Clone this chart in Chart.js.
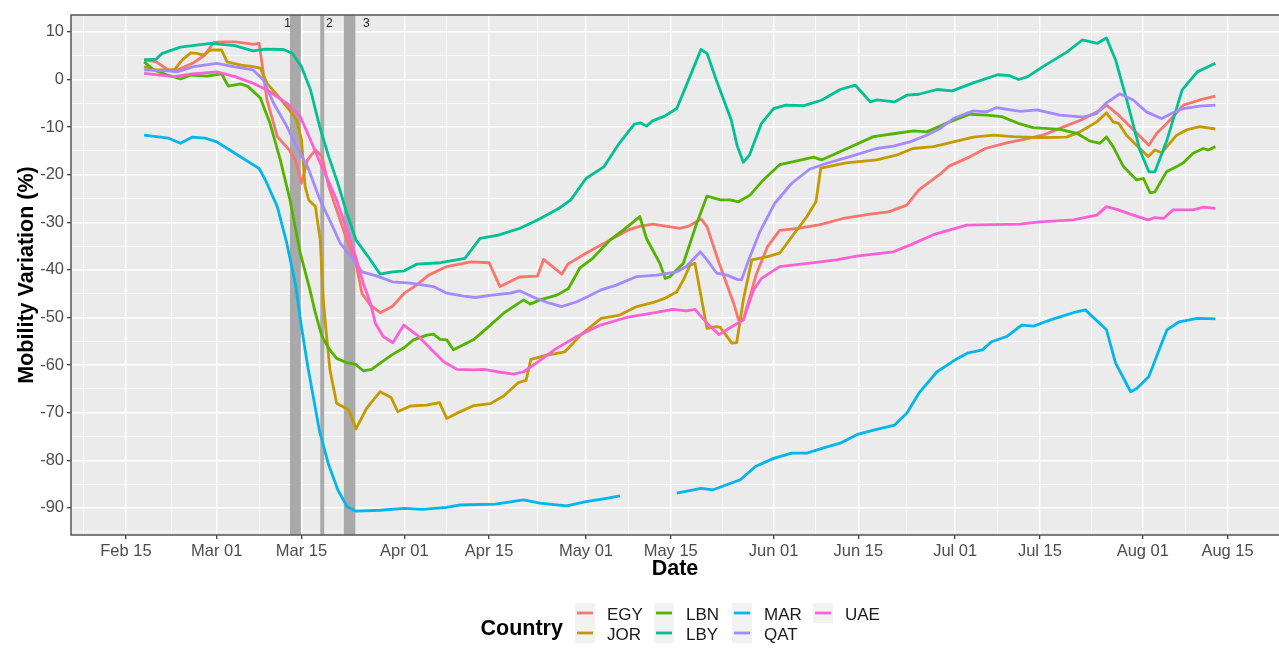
<!doctype html>
<html>
<head>
    <title>Mobility Variation</title>
    <script src="https://cdn.jsdelivr.net/npm/chart.js@4.4.1/dist/chart.umd.min.js"></script>
    <style>
    html, body { margin: 0; padding: 0; background: #fff; }
    #holder { width: 1279px; height: 648px; }
    </style>
</head>
<body>
<div id="holder"><canvas id="chart" width="1279" height="648"></canvas></div>
<script>
// x values are days counted from Feb 15 2020 (Feb 15 = 0)
var countries = ['EGY', 'JOR', 'LBN', 'LBY', 'MAR', 'QAT', 'UAE'];
var colors = ['#F8766D', '#C49A00', '#53B400', '#00C094', '#00B6EB', '#A58AFF', '#FB61D7'];

var egyDays = [3,5,7,8.5,11,13,14.5,16,18,20,21,22,22.7,23.3,25,27,28,29,30,31.3,32.4,33.5,35,36.5,38,39,40.4,42,44,46,48,50,53,57,60,61.8,65,68,69,72,73,76,80,83,85,87,91.5,93,95,96,98,100.4,101.2,102,104.2,106,108,111,114.7,118.5,123,126,129,131,134.5,136,139.5,142,145.5,148,151.5,155,158,161,162,164,166.5,169,170.3,172,174.7,177.4,180];
var egyVals = [4.2,3.7,2.0,2.0,3.4,5.1,7.8,7.9,7.9,7.6,7.4,7.6,1.3,-4.3,-12,-14.8,-16.9,-21.8,-16.9,-14.8,-16.2,-22.5,-28.1,-33.7,-38.6,-45,-47.4,-49,-47.7,-44.9,-43.2,-41.1,-39.3,-38.3,-38.5,-43.5,-41.5,-41.3,-37.8,-40.9,-38.8,-36.5,-33.7,-31.6,-30.8,-30.4,-31.3,-30.8,-29.3,-30.9,-38.6,-47,-50.5,-50.5,-40.7,-35.1,-31.7,-31.3,-30.5,-29.2,-28.3,-27.8,-26.4,-23.2,-19.9,-18.2,-16.2,-14.5,-13.3,-12.7,-11.7,-9.9,-8.4,-6.4,-5.4,-7.5,-10.6,-13.8,-11.3,-9.2,-5.4,-4.3,-3.5];

var jorDays = [3,5,8,9.3,10.7,11.7,12.8,14,15.8,16.7,19,21,22.2,23.3,25,27,28.2,29,29.6,30.2,31.3,32.1,32.6,33,33.7,34.8,36.8,38,39.8,42,43.8,44.9,47,49.7,51.8,53,54.7,57.5,60.2,62.4,64.8,66.1,66.9,69.2,72.5,75.3,78.5,81.6,84.4,87,89,91,92.1,93.2,94,96,97.6,98.2,100.1,100.9,102,103.4,106,108,110.5,112.5,114,114.8,116,119,124,127.3,130,133.4,136.7,140,143.3,146.6,151,155.4,157.6,160.4,162,163.1,164,165.3,167.5,168.9,170,171.1,173.6,175.2,177.4,180];
var jorVals = [2.7,2.0,2.0,4.1,5.6,5.5,5.1,6.2,6.2,3.7,3.0,2.7,2.4,-0.8,-3.3,-6.4,-8.5,-12.7,-22.5,-25.3,-26.7,-33.7,-46.3,-52,-61,-68,-69.4,-73.4,-69,-65.6,-66.8,-69.8,-68.6,-68.4,-67.9,-71.2,-70.1,-68.5,-68.1,-66.5,-63.7,-63.2,-58.8,-58,-57.2,-53.5,-50.2,-49.5,-47.7,-46.9,-46,-44.6,-42.1,-39,-38.6,-52.3,-51.9,-52.1,-55.4,-55.3,-46.3,-37.9,-37.2,-36.5,-32.2,-28.8,-25.7,-18.6,-18.3,-17.5,-16.9,-15.9,-14.5,-14.1,-13.1,-12.1,-11.7,-12,-12.2,-12.1,-11,-8.9,-7,-8.9,-9.2,-11.7,-14.5,-16.2,-14.8,-15.4,-11.7,-10.6,-9.9,-10.4];

var lbnDays = [3,4.6,7,9,10.7,13.4,15.8,16.9,18.9,20.2,22.2,23.8,25.5,27.1,28.8,30.4,31.3,32.4,33.5,34.8,36.5,37.9,39.2,40.6,42,44,46,47.5,49.7,50.8,51.9,53,54.1,57.4,60.2,62.4,65.7,66.8,68.4,71.2,73.1,75,77,80,82.2,84.9,86,88.2,89.1,89.9,92.1,94.3,96,98.2,99.8,101.2,103.1,105.3,108,110.5,113.6,114.9,117.4,120.7,123.5,126.8,130.1,132.3,136.1,139.4,142.2,144.7,147.4,149.9,154.3,157.1,159.2,160.9,162,163.1,164.8,167,168.1,169.2,170,171.9,173.6,174.7,176.3,178,178.8,180];
var lbnVals = [3.7,2.0,0.9,0.1,0.9,0.7,1.2,-1.4,-0.9,-1.5,-3.9,-9.2,-16.9,-25.3,-36.5,-44.2,-49.1,-54,-56.5,-58.6,-59.5,-59.8,-61.2,-60.9,-59.6,-57.8,-56.3,-54.7,-53.7,-53.5,-54.6,-54.7,-56.8,-54.7,-51.6,-49.1,-46.3,-47.2,-46.3,-45.3,-43.9,-39.6,-37.7,-33.7,-31.6,-28.8,-33.4,-38.6,-41.8,-41.4,-38.6,-30.2,-24.5,-25.3,-25.3,-25.7,-24.3,-21.1,-17.9,-17.2,-16.3,-16.9,-15.5,-13.6,-12,-11.4,-10.8,-11,-8.9,-7.3,-7.5,-7.8,-9.2,-10.1,-10.5,-11.3,-12.9,-13.4,-12.1,-14.1,-18.3,-21.1,-20.8,-23.8,-23.6,-19.4,-18.3,-17.5,-15.5,-14.5,-14.8,-14.1];

var lbyDays = [3,5,6,9,14,18,21,23,26,27.5,29,30.5,32,33.5,35,36.5,38,40,42,44,46,48,52,56,58.5,61.5,65,68,71.5,73.5,76,79,81.5,84,85,86,87,89,91,92.5,95,96,97.5,100,101,102,103,105,107,109,112,115,118,120.5,123,124,127,129,131,134,136.5,140,144,146,147.5,149,151.5,155.5,158,160.5,162,163.5,165.5,167.5,169,170,172,174.5,177,180];
var lbyVals = [4.1,4.3,5.5,6.8,7.6,7.1,6.0,6.4,6.3,5.5,2.7,-2.2,-9.9,-16.2,-21.8,-28.1,-33.7,-37.2,-40.9,-40.4,-40.2,-38.8,-38.5,-37.6,-33.4,-32.7,-31.3,-29.5,-27.1,-25.3,-20.8,-18.3,-13.4,-9.4,-9.1,-9.8,-8.7,-7.7,-6.1,-1.5,6.3,5.5,0,-8.5,-14,-17.4,-15.9,-9.2,-6.1,-5.4,-5.5,-4.3,-2.1,-1.2,-4.7,-4.3,-4.7,-3.3,-3.1,-2.1,-2.4,-0.7,1.0,0.8,0,0.6,2.7,5.8,8.3,7.6,8.7,4.1,-5,-14.8,-19.4,-19.4,-12.7,-2.2,1.6,3.4];

// MAR has no data for a few days in mid May (null = gap)
var marDays = [3,5,7,9,11,13,15,18,20,22,23,25,26.5,28,29,30,31,32,33.5,35,36.5,38,42,46,49,53,55,61,65.7,68.4,72.8,76,79.4,81.6,86,91,95,97,101.5,104,107,110,112.5,115,118,121,124,127,129,131,134,137,139,141.5,143,145.5,148,150,153,156.5,158.5,162,163.5,166,167,169,171,172,174,177,180];
var marVals = [-11.7,-12.0,-12.3,-13.4,-12.1,-12.3,-13.1,-15.5,-17.1,-18.7,-21,-26.7,-34,-43,-52,-60,-67,-74,-81,-86.2,-89.7,-90.7,-90.5,-90.1,-90.3,-89.9,-89.4,-89.2,-88.3,-89,-89.6,-88.7,-88,-87.5,null,-86.9,-85.9,-86.2,-84.1,-81.3,-79.6,-78.5,-78.5,-77.5,-76.4,-74.5,-73.5,-72.6,-70.1,-65.9,-61.4,-58.9,-57.5,-56.8,-55.1,-54,-51.6,-51.8,-50.4,-49,-48.4,-52.6,-59.6,-65.6,-64.9,-62.4,-55.8,-52.6,-50.9,-50.2,-50.3];

var qatDays = [3,7,8.4,11.2,15,17.8,21,22.7,24.4,26.6,28.2,30,32,34,35.4,37.6,39,41.5,44,47,50.8,53,55.8,57.7,60.5,63.5,65,68,70,72,74.5,76.5,78.5,81,84.4,87.7,91,92.6,94.9,96,97.6,99.3,101,101.7,103.1,104.8,107.2,110,113,115.8,119.6,124,126.8,129.5,132.3,134.5,136.7,140,142.2,143.8,147.7,150.5,154.3,158.2,160.4,162,164.2,166.4,168.6,171.1,173,174.7,177.4,180];
var qatVals = [2.0,1.8,1.6,2.7,3.4,2.7,2.0,-0.1,-5,-9.9,-14.1,-18.3,-25.1,-30.5,-34.4,-37.9,-40.4,-41.3,-42.5,-42.8,-43.5,-44.9,-45.5,-45.8,-45.3,-44.9,-44.4,-46.1,-47,-47.7,-46.7,-45.5,-44.2,-43.2,-41.4,-41.1,-40.4,-39.3,-36.2,-37.9,-40.7,-41.1,-42,-42.1,-37.2,-31.8,-26,-21.8,-18.8,-17.6,-16.2,-14.5,-14,-13.1,-11.7,-10.3,-8.2,-6.6,-6.8,-5.9,-6.7,-6.4,-7.5,-7.9,-7.1,-4.9,-3,-4.3,-6.8,-8.2,-7,-6.1,-5.6,-5.4];

var uaeDays = [3,8,11,15,18,21,23.3,26.6,28.8,30.5,32.1,33.5,34.8,36.5,38,39.2,40.4,41.2,42.5,44.1,45.9,48.1,50.3,52.5,54.7,57.4,59.1,61.3,64,65.7,67.9,71,74.5,78.4,82.7,86,90.4,92.6,94,96,98,100,102,103.7,105,108,113,117.4,120.7,126.8,129.5,133.4,138.9,147.7,151,156.5,160.4,162,163.7,166.4,168.9,170,171.4,173,176.3,178,180];
var uaeVals = [1.3,0.6,1.2,1.6,0.6,-0.8,-2.2,-5,-7.8,-12.7,-17.6,-21.5,-25.3,-31.6,-37.5,-42.8,-47,-51.2,-54,-55.3,-51.6,-53.7,-56.5,-59.3,-60.9,-61,-60.9,-61.4,-61.9,-61.4,-59.5,-56.6,-54,-51.6,-50,-49.3,-48.3,-48.6,-48.3,-51.2,-53.6,-52,-50.5,-44.2,-41.8,-39.3,-38.6,-37.9,-37.1,-36.2,-34.8,-32.6,-30.6,-30.4,-29.9,-29.5,-28.5,-26.7,-27.3,-28.5,-29.5,-29,-29.2,-27.4,-27.4,-26.8,-27.1];

// axis ticks
var tickDays = [0, 15, 29, 46, 60, 76, 90, 107, 121, 137, 151, 168, 182];
var tickLabels = ['Feb 15', 'Mar 01', 'Mar 15', 'Apr 01', 'Apr 15', 'May 01', 'May 15', 'Jun 01', 'Jun 15', 'Jul 01', 'Jul 15', 'Aug 01', 'Aug 15'];
var minorDays = [-7, 7.5, 22, 37.5, 53, 68, 83, 98.5, 114, 129, 144, 159.5, 175];
var yMajor = [-90, -80, -70, -60, -50, -40, -30, -20, -10, 0, 10];
var yMinor = [-95, -85, -75, -65, -55, -45, -35, -25, -15, -5, 5];

// shaded event periods (days) and their labels
var eventStart = [27.1, 32.1, 36.0];
var eventEnd = [28.9, 32.75, 37.9];
var eventLabels = ['1', '2', '3'];
var eventLabelDay = [26.7, 33.6, 39.7];

var FONT = '"Liberation Sans", Arial, Helvetica, sans-serif';
Chart.defaults.font.family = FONT;

var series = [
    [egyDays, egyVals], [jorDays, jorVals], [lbnDays, lbnVals], [lbyDays, lbyVals],
    [marDays, marVals], [qatDays, qatVals], [uaeDays, uaeVals]
];

function pts(days, vals) {
    return days.map(function(d, i) { return {x: d, y: vals[i]}; });
}

var datasets = series.map(function(s, i) {
    return {
        label: countries[i],
        data: pts(s[0], s[1]),
        borderColor: colors[i],
        backgroundColor: colors[i],
        borderWidth: 2.8,
        pointRadius: 0,
        tension: 0,
        spanGaps: false,
        borderJoinStyle: 'round',
        order: countries.length - i
    };
});

function isIn(arr, v) {
    return arr.some(function(a) { return Math.abs(a - v) < 1e-6; });
}

var panelPlugin = {
    id: 'panel',
    beforeDraw: function(chart) {
        var a = chart.chartArea, ctx = chart.ctx;
        ctx.save();
        ctx.fillStyle = '#EBEBEB';
        ctx.fillRect(a.left, a.top, a.right - a.left, a.bottom - a.top);
        ctx.restore();
    },
    beforeDatasetsDraw: function(chart) {
        var a = chart.chartArea, ctx = chart.ctx, xs = chart.scales.x;
        ctx.save();
        ctx.fillStyle = '#A9A9A9';
        for (var i = 0; i < eventStart.length; i++) {
            var x0 = xs.getPixelForValue(eventStart[i]);
            var x1 = xs.getPixelForValue(eventEnd[i]);
            ctx.fillRect(x0, a.top, x1 - x0, a.bottom - a.top);
        }
        ctx.fillStyle = '#1A1A1A';
        ctx.font = '12px ' + FONT;
        ctx.textAlign = 'center';
        ctx.textBaseline = 'middle';
        for (var j = 0; j < eventLabels.length; j++) {
            ctx.fillText(eventLabels[j], xs.getPixelForValue(eventLabelDay[j]), a.top + 9);
        }
        ctx.restore();
    },
    afterDatasetsDraw: function(chart) {
        var a = chart.chartArea, ctx = chart.ctx;
        ctx.save();
        ctx.strokeStyle = '#555555';
        ctx.lineWidth = 1.5;
        ctx.beginPath();
        ctx.moveTo(a.right, a.top);
        ctx.lineTo(a.left, a.top);
        ctx.lineTo(a.left, a.bottom);
        ctx.lineTo(a.right, a.bottom);
        ctx.stroke();
        ctx.restore();
    },
    afterDraw: function(chart) {
        // legend: title on the left, keys in 2 rows filled column by column
        var ctx = chart.ctx;
        var colX = [575, 654, 732, 813];
        var rowY = [603, 623];
        ctx.save();
        ctx.fillStyle = '#000';
        ctx.font = 'bold 21.5px ' + FONT;
        ctx.textAlign = 'left';
        ctx.textBaseline = 'alphabetic';
        ctx.fillText('Country', 480.5, 635);
        ctx.font = '17px ' + FONT;
        chart.data.datasets.forEach(function(ds, i) {
            var c = Math.floor(i / 2), r = i % 2;
            var bx = colX[c], by = rowY[r];
            ctx.fillStyle = '#F2F2F2';
            ctx.fillRect(bx, by, 20, 20);
            ctx.strokeStyle = ds.borderColor;
            ctx.lineWidth = 2.8;
            ctx.beginPath();
            ctx.moveTo(bx + 2, by + 10);
            ctx.lineTo(bx + 18, by + 10);
            ctx.stroke();
            ctx.fillStyle = '#1A1A1A';
            ctx.fillText(ds.label, bx + 32, by + 16.5);
        });
        ctx.restore();
    }
};

var xGrid = tickDays.concat(minorDays).sort(function(a, b) { return a - b; });
var yGrid = yMajor.concat(yMinor).sort(function(a, b) { return a - b; });

var config = {
    type: 'line',
    data: { datasets: datasets },
    options: {
        responsive: false,
        animation: false,
        events: [],
        layout: { padding: { top: 15, right: 0, bottom: 66, left: 0 } },
        plugins: {
            legend: { display: false },
            tooltip: { enabled: false }
        },
        scales: {
            x: {
                type: 'linear',
                min: -9.08,
                max: 190.5,
                afterBuildTicks: function(s) {
                    s.ticks = xGrid.map(function(v) { return {value: v}; });
                },
                afterFit: function(s) { s.height = 47; },
                border: { display: false },
                grid: {
                    color: '#FFFFFF',
                    lineWidth: function(c) { return c.tick && isIn(tickDays, c.tick.value) ? 1.4 : 0.7; },
                    tickColor: function(c) { return c.tick && isIn(tickDays, c.tick.value) ? '#333333' : 'rgba(0,0,0,0)'; },
                    tickLength: 4,
                    tickWidth: 1.2
                },
                ticks: {
                    autoSkip: false,
                    maxRotation: 0,
                    padding: 3,
                    color: '#4D4D4D',
                    font: { size: 16.5 },
                    callback: function(v) {
                        for (var i = 0; i < tickDays.length; i++) {
                            if (Math.abs(tickDays[i] - v) < 1e-6) return tickLabels[i];
                        }
                        return '';
                    }
                },
                title: {
                    display: true,
                    text: 'Date',
                    color: '#000',
                    font: { size: 21.5, weight: 'bold' },
                    padding: { top: 0, bottom: 0 }
                }
            },
            y: {
                min: -95.7,
                max: 13.55,
                afterBuildTicks: function(s) {
                    s.ticks = yGrid.map(function(v) { return {value: v}; });
                },
                afterFit: function(s) { s.width = 71; },
                border: { display: false },
                grid: {
                    color: '#FFFFFF',
                    lineWidth: function(c) { return c.tick && isIn(yMajor, c.tick.value) ? 1.4 : 0.7; },
                    tickColor: function(c) { return c.tick && isIn(yMajor, c.tick.value) ? '#333333' : 'rgba(0,0,0,0)'; },
                    tickLength: 4,
                    tickWidth: 1.2
                },
                ticks: {
                    autoSkip: false,
                    padding: 3,
                    color: '#4D4D4D',
                    font: { size: 16.5 },
                    callback: function(v) { return isIn(yMajor, v) ? String(v) : ''; }
                },
                title: {
                    display: true,
                    text: 'Mobility Variation (%)',
                    color: '#000',
                    font: { size: 21.5, weight: 'bold' },
                    padding: { top: 14, bottom: 0 }
                }
            }
        }
    },
    plugins: [panelPlugin]
};

window.onload = function() {
    var ctx = document.getElementById('chart').getContext('2d');
    window.myChart = new Chart(ctx, config);
};
</script>
</body>
</html>
